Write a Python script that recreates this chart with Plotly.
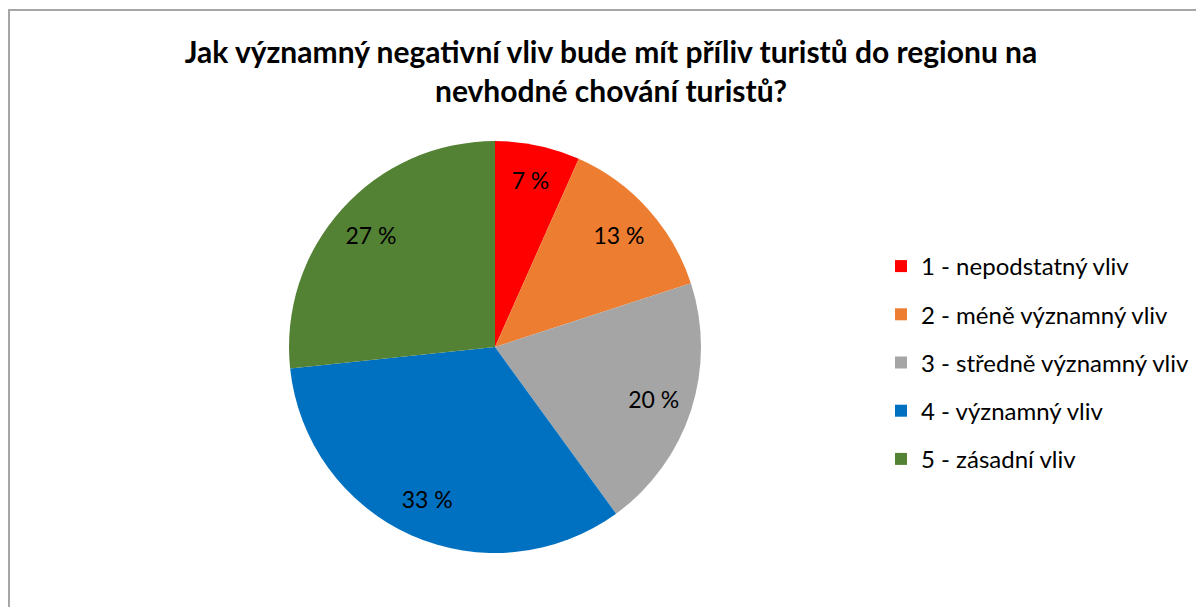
import plotly.graph_objects as go

categories = ["1 - nepodstatný vliv", "2 - méně významný vliv", "3 - středně významný vliv",
              "4 - významný vliv", "5 - zásadní vliv"]
counts = [1, 2, 3, 5, 4]
colors = ["#FF0000", "#ED7D31", "#A5A5A5", "#0070C0", "#548235"]
title_text = "Jak významný negativní vliv bude mít příliv turistů do regionu na<br>nevhodné chování turistů?"

total = sum(counts)
labels_txt = [f"{round(c / total * 100)} %" for c in counts]

FONT = "Lato"
W, H = 1204, 607
OFF = 8  # page body margin

dom = dict(x=[(289 - OFF) / W, (701 - OFF) / W], y=[1 - (553 - OFF) / H, 1 - (141 - OFF) / H])

fig = go.Figure()
# coloured slices
fig.add_trace(go.Pie(
    labels=categories, values=counts,
    textinfo="none",
    marker=dict(colors=colors, line=dict(width=0)),
    sort=False, direction="clockwise", rotation=0,
    showlegend=False, hoverinfo="label+percent",
    domain=dom,
))
# transparent ring carrying the data labels (places them near the rim)
fig.add_trace(go.Pie(
    labels=categories, values=counts, text=labels_txt, hole=0.62,
    textinfo="text", textposition="inside", insidetextorientation="horizontal",
    textfont=dict(family=FONT, size=23, color="black"),
    marker=dict(colors=["rgba(0,0,0,0)"] * len(counts), line=dict(width=0)),
    sort=False, direction="clockwise", rotation=0,
    showlegend=False, hoverinfo="skip",
    domain=dom,
))

for cat, col in zip(categories, colors):
    fig.add_trace(go.Scatter(
        x=[None], y=[None], mode="markers", name=cat, legendgroup=cat,
        marker=dict(symbol="square", size=13, color=col),
        showlegend=True,
    ))

fig.update_layout(
    width=W, height=H,
    margin=dict(l=0, r=0, t=0, b=0),
    paper_bgcolor="white", plot_bgcolor="white",
    title=dict(text=title_text, x=(611 - OFF) / W, xanchor="center", y=1 - 55 / H, yanchor="top",
               font=dict(family=FONT, size=30, color="black", weight="bold")),
    xaxis=dict(visible=False), yaxis=dict(visible=False),
    legend=dict(x=873 / W, xanchor="left", y=1 - 236 / H, yanchor="top",
                font=dict(family=FONT, size=24, color="black"),
                tracegroupgap=14, itemsizing="constant", bgcolor="rgba(0,0,0,0)"),
    shapes=[dict(type="rect", xref="paper", yref="paper",
                 x0=1 / W, x1=1.05, y0=-0.05, y1=1 - 2 / H,
                 line=dict(color="#A6A6A6", width=2), fillcolor="rgba(0,0,0,0)")],
)

fig.write_html("out.html")
